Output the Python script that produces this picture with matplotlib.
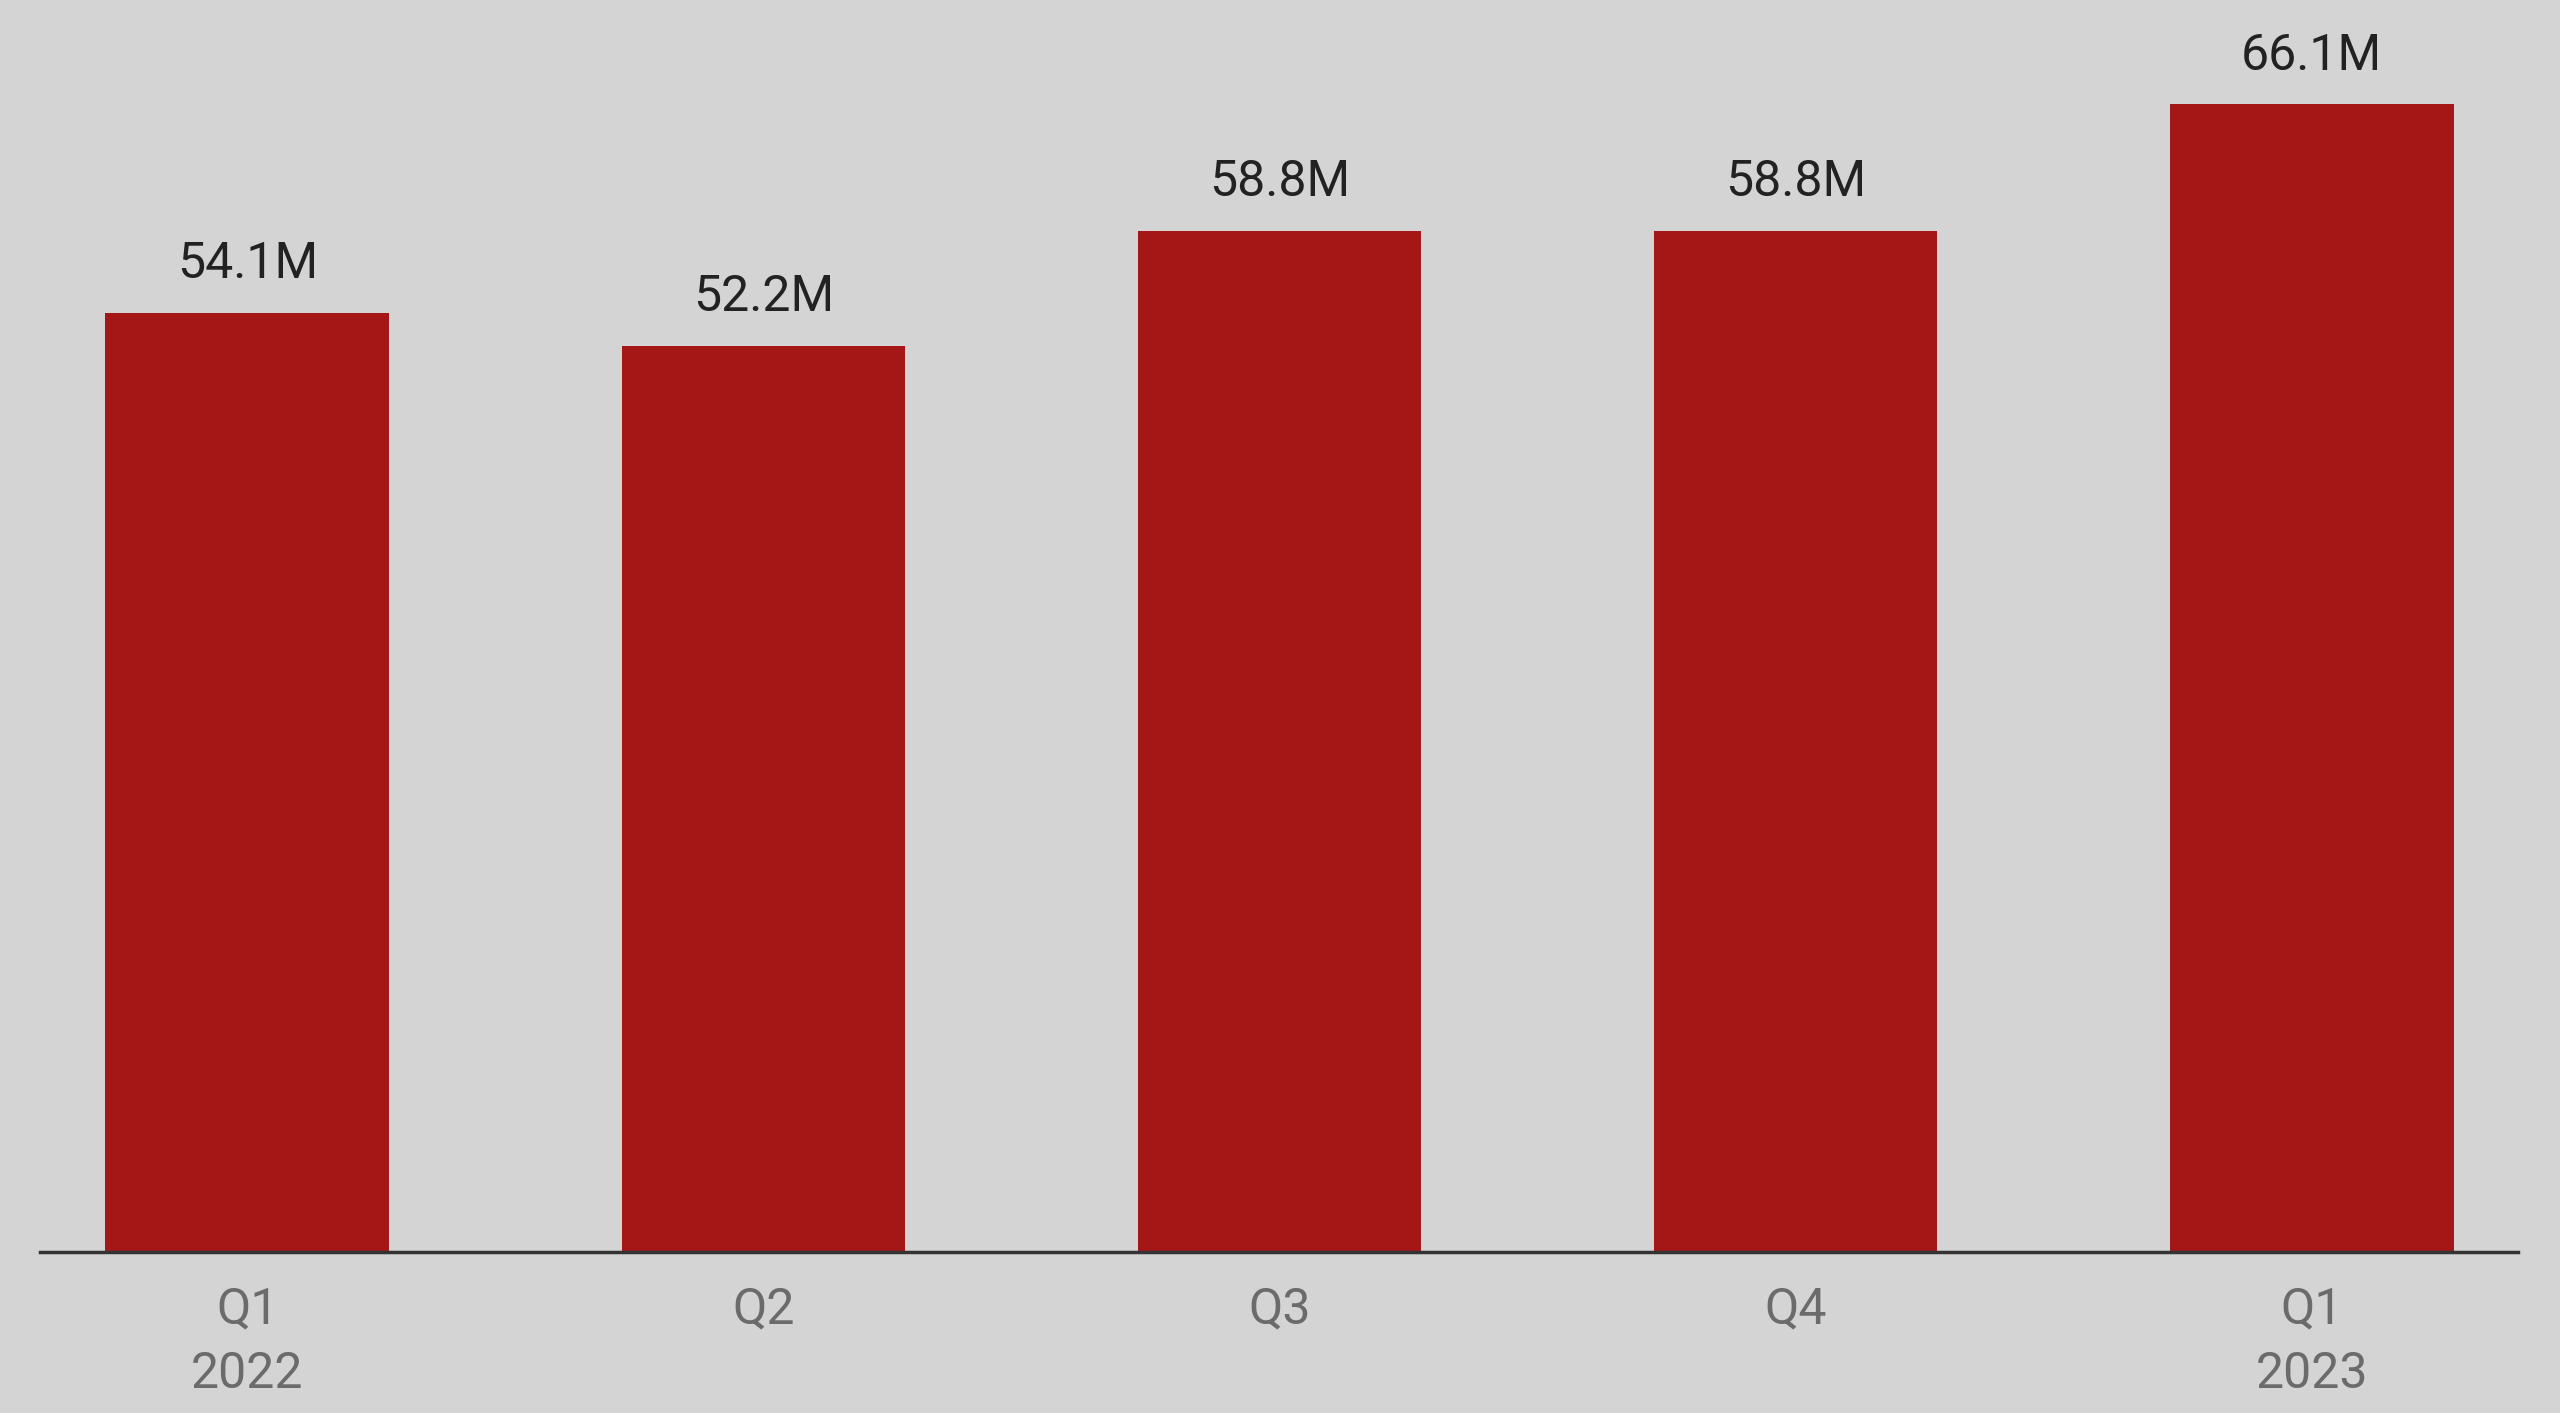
import matplotlib

matplotlib.use("Agg")
import matplotlib.pyplot as plt

# ---- data ----------------------------------------------------------------
QUARTERS = ["Q1\n2022", "Q2", "Q3", "Q4", "Q1\n2023"]
VALUES_M = [54.1, 52.2, 58.8, 58.8, 66.1]
LABELS = ["54.1M", "52.2M", "58.8M", "58.8M", "66.1M"]

# ---- style ---------------------------------------------------------------
BG = "#d4d4d4"
BAR = "#a51717"
INK = "#222222"
MUTED = "#6b6b6b"

plt.rcParams["font.family"] = ["Roboto", "DejaVu Sans"]

fig = plt.figure(figsize=(25.6, 14.13), dpi=100, facecolor=BG)
ax = fig.add_axes([0.0156, 0.1139, 0.968, 0.8861], facecolor=BG)

x = range(len(QUARTERS))
bars = ax.bar(x, VALUES_M, width=0.55, color=BAR, zorder=2)

for b, lab in zip(bars, LABELS):
    ax.annotate(lab, (b.get_x() + b.get_width() / 2, b.get_height()),
                xytext=(0, 35), textcoords="offset points",
                ha="center", va="center", fontsize=36, color=INK)

ax.set_xlim(-0.402, 4.4)
ax.set_ylim(0, 72.1)
ax.set_xticks(list(x))
ax.set_xticklabels(QUARTERS, fontsize=36, color=MUTED, linespacing=1.45)
ax.tick_params(axis="x", length=0, pad=24)
ax.set_yticks([])

for side in ("top", "right", "left"):
    ax.spines[side].set_visible(False)
ax.spines["bottom"].set_color("#333333")
ax.spines["bottom"].set_linewidth(2.5)
ax.spines["bottom"].set_zorder(3)

fig.savefig("out.png", dpi=100, facecolor=BG)
